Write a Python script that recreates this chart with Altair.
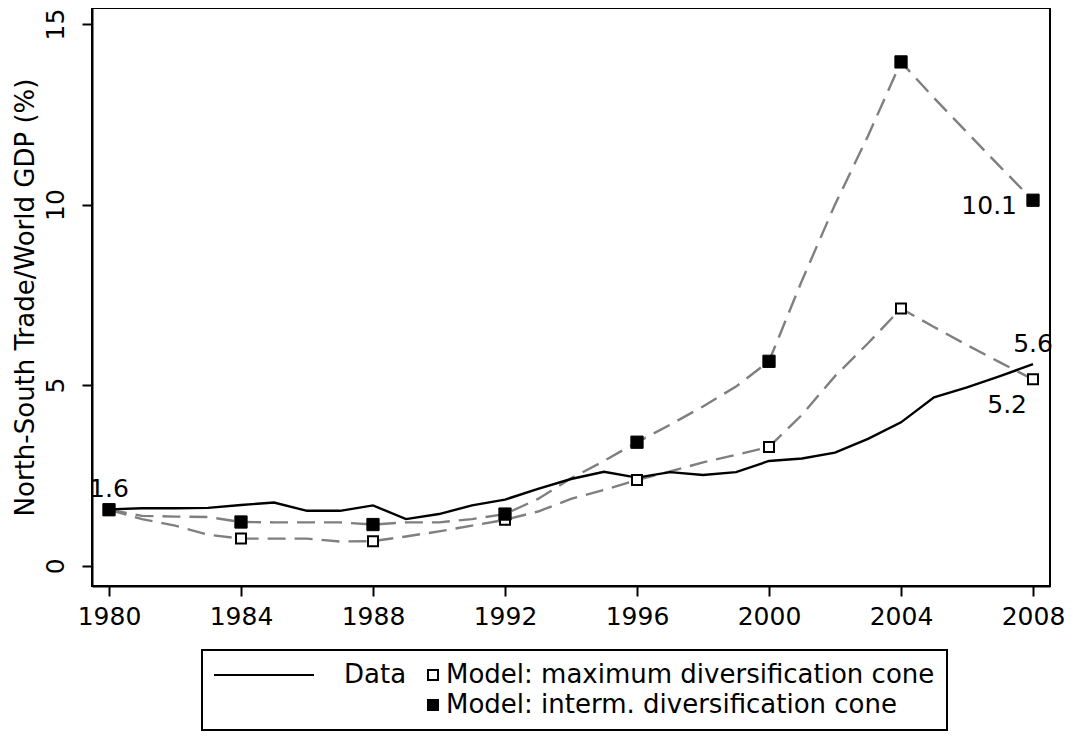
import altair as alt
import pandas as pd

# ---- values ----
years = list(range(1980, 2009))
data_share = [1.56, 1.59, 1.59, 1.60, 1.68, 1.75, 1.52, 1.52, 1.67, 1.29,
              1.43, 1.67, 1.83, 2.13, 2.40, 2.60, 2.44, 2.59, 2.51, 2.59,
              2.90, 2.97, 3.13, 3.51, 3.97, 4.66, 4.94, 5.25, 5.58]
model_max = [1.55, 1.29, 1.11, 0.86, 0.75, 0.75, 0.75, 0.67, 0.68, 0.81,
             0.95, 1.11, 1.27, 1.50, 1.85, 2.10, 2.37, 2.61, 2.86, 3.07,
             3.29, 4.18, 5.25, 6.16, 7.12, 6.61, 6.11, 5.63, 5.16]
model_interm = [1.55, 1.38, 1.36, 1.35, 1.21, 1.20, 1.20, 1.20, 1.14, 1.20,
                1.20, 1.29, 1.43, 1.85, 2.42, 2.90, 3.42, 3.90, 4.41, 4.96,
                5.66, 7.90, 10.00, 11.90, 13.95, 12.95, 12.00, 11.05, 10.12]

S_DATA = "Data"
S_MAX = "Model: maximum diversification cone"
S_INT = "Model: interm. diversification cone"
x_ticks = [1980, 1984, 1988, 1992, 1996, 2000, 2004, 2008]
y_ticks = [0, 5, 10, 15]
y_title = "North-South Trade/World GDP (%)"

FONT = "DejaVu Sans"

df_data = pd.DataFrame({"year": years, "value": data_share, "series": S_DATA})
df_model = pd.concat([
    pd.DataFrame({"year": years, "value": model_max, "series": S_MAX}),
    pd.DataFrame({"year": years, "value": model_interm, "series": S_INT}),
], ignore_index=True)

x_enc = alt.X("year:Q",
              scale=alt.Scale(domain=[1979.485, 2008.515], nice=False, zero=False),
              axis=alt.Axis(values=x_ticks, format="d", title=None,
                            labelFontSize=25, labelColor="black", labelPadding=8,
                            tickSize=10, tickWidth=2, tickColor="black",
                            domainColor="black", domainWidth=2, grid=False,
                            labelFlush=False))
y_enc = alt.Y("value:Q",
              scale=alt.Scale(domain=[-0.562, 15.443], nice=False, zero=False),
              axis=alt.Axis(values=y_ticks, title=y_title,
                            labelAngle=270, labelAlign="center", labelBaseline="bottom",
                            labelFontSize=25, labelColor="black", labelPadding=14,
                            titleFontSize=26, titleFontWeight="normal", titleColor="black",
                            titlePadding=5,
                            tickSize=10, tickWidth=2, tickColor="black",
                            domainColor="black", domainWidth=2, grid=False))

# legend laid out as a 3-column grid: [line sample | Data | max] / [ | | interm]
# whitespace-only entries are the empty cells of the grid
LINE_KEY, GAP1, GAP2 = " ", "  ", "   "
legend_domain = [LINE_KEY, S_DATA, S_MAX, GAP1, GAP2, S_INT]
legend = alt.Legend(
    orient="none", legendX=110, legendY=642, direction="horizontal", columns=3,
    title=None, labelFont=FONT, labelFontSize=26, labelColor="black",
    labelLimit=900, labelOffset=0, symbolSize=100, symbolStrokeWidth=2,
    symbolOffset=0, columnPadding=0, rowPadding=4, padding=12,
    strokeColor="black",
)
shape_enc = alt.Shape("series:N", scale=alt.Scale(
    domain=legend_domain,
    range=["M-2.6,0H17.4", "square", "square", "square", "M0,0H16.9", "square"]),
    legend=legend)
fill_enc = alt.Fill("series:N", scale=alt.Scale(
    domain=legend_domain,
    range=["transparent", "transparent", "white", "transparent", "transparent", "black"]),
    legend=legend)
stroke_enc = alt.Stroke("series:N", scale=alt.Scale(
    domain=legend_domain,
    range=["black", "transparent", "black", "transparent", "transparent", "black"]),
    legend=legend)

data_line = alt.Chart(df_data).mark_line(color="black", strokeWidth=2.4).encode(
    x=x_enc, y=y_enc)

model_lines = alt.Chart(df_model).mark_line(
    color="#7f7f7f", strokeWidth=2.4, strokeDash=[18, 9]).encode(
    x=x_enc, y=y_enc, detail="series:N")

pts_max = alt.Chart(df_model).transform_filter(
    f"datum.year % 4 == 0 && datum.series == '{S_MAX}'"
).mark_point(filled=True, size=100, strokeWidth=2, opacity=1).encode(
    x=x_enc, y=y_enc, shape=shape_enc, fill=fill_enc, stroke=stroke_enc)

pts_int = alt.Chart(df_model).transform_filter(
    f"datum.year % 4 == 0 && datum.series == '{S_INT}'"
).mark_point(filled=True, size=150, strokeWidth=1, opacity=1).encode(
    x=x_enc, y=y_enc, shape=shape_enc, fill=fill_enc, stroke=stroke_enc)

txt = dict(font=FONT, fontSize=25, color="black")
lbl_data = alt.Chart(df_data).transform_filter(
    "datum.year == 1980 || datum.year == 2008"
).mark_text(align="center", baseline="alphabetic", dy=-12, **txt).encode(
    x=x_enc, y=y_enc, text=alt.Text("value:Q", format=".1f"))

lbl_int = alt.Chart(df_model).transform_filter(
    f"datum.year == 2008 && datum.series == '{S_INT}'"
).mark_text(align="right", baseline="alphabetic", dx=-16, dy=14, **txt).encode(
    x=x_enc, y=y_enc, text=alt.Text("value:Q", format=".1f"))

lbl_max = alt.Chart(df_model).transform_filter(
    f"datum.year == 2008 && datum.series == '{S_MAX}'"
).mark_text(align="right", baseline="alphabetic", dx=-6, dy=34, **txt).encode(
    x=x_enc, y=y_enc, text=alt.Text("value:Q", format=".1f"))

chart = alt.layer(
    model_lines, data_line, pts_max, pts_int, lbl_data, lbl_int, lbl_max
).properties(
    width=958, height=578,
    autosize=alt.AutoSizeParams(type="none"),
    padding={"left": 84, "top": 0, "right": 20, "bottom": 150},
).configure(font=FONT).configure_view(
    stroke="black", strokeWidth=2
).configure_legend(strokeWidth=2)

chart.save("out.html", embed_options={"renderer": "svg", "actions": False})
